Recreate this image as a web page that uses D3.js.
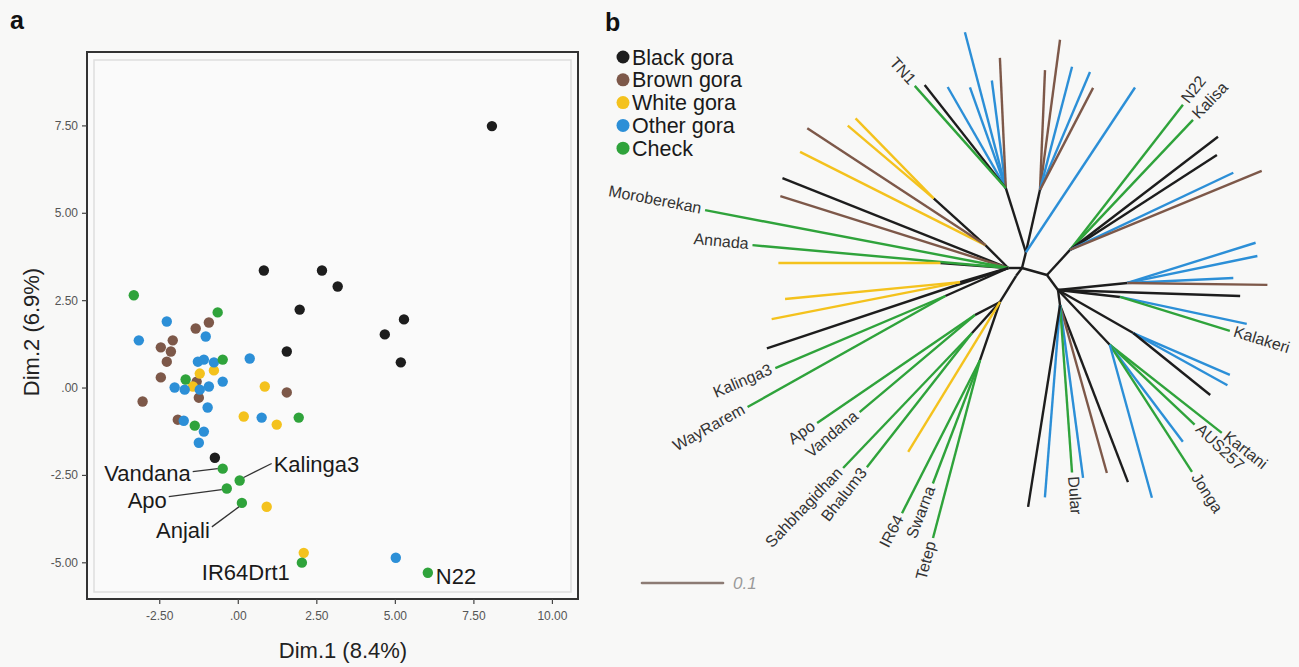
<!DOCTYPE html>
<html><head><meta charset="utf-8">
<script src="https://cdn.jsdelivr.net/npm/d3@7"></script>
<style>
body{margin:0;background:#f8f8f7;}
svg{display:block;font-family:"Liberation Sans",Arial,Helvetica,sans-serif;}
</style>
</head><body>
<svg id="c" width="1299" height="667"></svg>
<script>
// ---------- DATA ----------
const groups = ["Black gora","Brown gora","White gora","Other gora","Check"];
const groupColors = ["#1d1d1d","#7d5849","#f4c21d","#2c8fd7","#2fa33b"];

// Panel a: PCA scatter (Dim.1, Dim.2)
const xTicks = [-2.5, 0, 2.5, 5, 7.5, 10];
const xTickLabels = ["-2.50", ".00", "2.50", "5.00", "7.50", "10.00"];
const yTicks = [-5, -2.5, 0, 2.5, 5, 7.5];
const yTickLabels = ["-5.00", "-2.50", ".00", "2.50", "5.00", "7.50"];

const blackGora = [[8.09,7.48],[0.83,3.35],[2.68,3.35],[3.18,2.89],[1.97,2.23],[1.56,1.03],
  [4.68,1.52],[5.29,1.95],[5.19,0.72],[-0.73,-2.01]];
const brownGora = [[-1.34,1.69],[-0.92,1.86],[-2.07,1.35],[-2.45,1.15],[-2.13,1.03],[-2.26,0.74],
  [-2.45,0.29],[-1.31,0.17],[-1.24,-0.29],[1.56,-0.14],[-3.03,-0.40],[-1.91,-0.92]];
const whiteGora = [[-0.76,0.49],[-1.21,0.40],[-1.43,0.03],[0.86,0.03],[0.19,-0.83],[1.24,-1.06],
  [0.92,-3.41],[2.10,-4.73]];
const otherGora = [[-2.26,1.89],[-1.02,1.46],[-3.15,1.35],[-1.27,0.74],[-1.08,0.80],[-0.76,0.72],
  [-2.01,0.00],[-1.69,-0.06],[-1.21,-0.06],[-0.92,0.03],[-0.48,0.17],[0.38,0.83],[-0.96,-0.57],
  [0.76,-0.86],[-1.72,-0.95],[-1.08,-1.26],[-1.24,-1.58],[5.03,-4.87]];
const checks = [[-3.31,2.64],[-0.64,2.15],[-0.48,0.80],[-1.66,0.23],[1.94,-0.86],[-1.37,-1.09],
  [-0.48,-2.32],[0.06,-2.66],[-0.35,-2.89],[0.13,-3.30],[2.04,-5.01],[6.05,-5.30]];
const checkNames = ["","","","","","","Vandana","Kalinga3","Apo","Anjali","IR64Drt1","N22"];

// Panel b: unrooted tree. Internal nodes: [id, parent, angle(deg), branch length]
const treeInternal = [
  ["L","H",180,0.017],["U","H",-76,0.020],["R","H",15.6,0.032],["D","H",127,0.012],
  ["R2","R",53.7,0.023],["D1","D",121.6,0.038],["UA","U",-77.3,0.079],["UB","U",-107.4,0.083],
  ["UR","R",-47.4,0.042],["UL","L",-135,0.040],["YY","UL",-137.9,0.086],["Y1","L",184.2,0.084],
  ["YY2","L",163.7,0.062],["KW","L",156,0.085],["AV","D1",152.5,0.035],["SB","D1",132,0.052],
  ["IST","D1",109,0.076],["RA","R2",-5.8,0.086],["RK","R2",6.4,0.077],["RB","R2",29.8,0.107],
  ["RC","R2",46.6,0.093],["RD","R2",82.4,0.019]
];
// Leaves: [parent, group index, angle(deg), branch length, label]
const treeLeaves = [
  ["U",3,-56.5,0.244,""],
  ["UA",1,-87.6,0.148,""],["UA",1,-82.4,0.187,""],["UA",3,-75.4,0.157,""],["UA",3,-67,0.158,""],["UA",1,-62.5,0.142,""],
  ["UB",3,-119.9,0.144,""],["UB",3,-104.7,0.199,""],["UB",3,-109.6,0.132,""],["UB",3,-97.4,0.134,""],["UB",1,-92.6,0.161,""],
  ["UB",0,-128.2,0.162,""],["UB",4,-131.7,0.169,"TN1"],
  ["UR",4,-52.1,0.227,"N22"],["UR",4,-46.6,0.221,"Kalisa"],["UR",0,-37.4,0.230,""],["UR",0,-32.9,0.216,""],
  ["UR",3,-25.3,0.223,""],["UR",1,-22.4,0.256,""],
  ["UL",2,-153.3,0.256,""],["UL",1,-146.7,0.263,""],
  ["YY",2,-139.7,0.139,""],["YY",2,-134.3,0.138,""],
  ["L",0,-158.3,0.300,""],["L",1,-162.5,0.295,""],["L",4,-169.2,0.381,"Moroberekan"],["L",4,-174.9,0.317,"Annada"],
  ["L",0,161.6,0.314,""],
  ["Y1",2,180,0.200,""],
  ["YY2",2,174.5,0.217,""],["YY2",2,168.9,0.237,""],
  ["KW",4,157,0.228,"Kalinga3"],["KW",4,150.7,0.280,"WayRarem"],
  ["D1",2,121.5,0.217,""],
  ["AV",4,145.6,0.236,"Apo"],["AV",4,139.9,0.186,"Vandana"],
  ["SB",4,133.7,0.230,"Sahbhagidhan"],["SB",4,128.1,0.210,"Bhalum3"],
  ["IST",4,117,0.212,"IR64"],["IST",4,110.9,0.163,"Swarna"],["IST",4,104.8,0.227,"Tetep"],
  ["RA",3,-17.4,0.166,""],["RA",3,-11.7,0.164,""],["RA",3,-2.7,0.131,""],["RA",1,0.8,0.173,""],
  ["R2",0,1.9,0.225,""],
  ["RK",3,12,0.160,""],["RK",4,17.2,0.142,"Kalakeri"],
  ["RB",3,23.4,0.130,""],["RB",3,29,0.133,""],["RB",0,38.8,0.122,""],
  ["RC",4,38.2,0.176,"Kartani"],["RC",4,43.3,0.144,"AUS257"],["RC",3,53,0.150,""],["RC",4,57.1,0.187,"Jonga"],["RC",3,74.6,0.196,""],
  ["RD",0,69,0.234,""],["RD",1,74.4,0.215,""],["RD",3,82.4,0.215,""],["RD",4,85.9,0.207,"Dular"],["RD",3,94.5,0.238,""],["RD",0,99,0.252,""]
];
const scaleBarValue = 0.1;

// ---------- DRAW ----------
const svg = d3.select("#c");

// Panel labels
svg.append("text").attr("x",10).attr("y",29).attr("font-size",25).attr("font-weight","bold").attr("fill","#111").text("a");
svg.append("text").attr("x",605).attr("y",31).attr("font-size",25).attr("font-weight","bold").attr("fill","#111").text("b");

// ---- Panel a ----
const x = d3.scaleLinear().domain([-4.8, 10.83]).range([87, 578]);
const y = d3.scaleLinear().domain([-6.05, 9.6]).range([599, 52]);

svg.append("rect").attr("x",87).attr("y",52).attr("width",491).attr("height",547)
  .attr("fill","#fafafa").attr("stroke","#333").attr("stroke-width",2);
svg.append("rect").attr("x",94).attr("y",60).attr("width",477).attr("height",532)
  .attr("fill","none").attr("stroke","#dedede").attr("stroke-width",1.5);

const xAxis = svg.append("g").attr("transform","translate(0,599)")
  .call(d3.axisBottom(x).tickValues(xTicks).tickFormat((d,i)=>xTickLabels[i]).tickSize(5).tickPadding(7));
const yAxis = svg.append("g").attr("transform","translate(87,0)")
  .call(d3.axisLeft(y).tickValues(yTicks).tickFormat((d,i)=>yTickLabels[i]).tickSize(5).tickPadding(4));
[xAxis,yAxis].forEach(g=>{
  g.select(".domain").remove();
  g.selectAll(".tick line").attr("stroke","#444").attr("stroke-width",1.2);
  g.selectAll(".tick text").attr("font-size",12).attr("fill","#555").attr("font-family","'Liberation Sans',Arial,sans-serif");
});

svg.append("text").attr("x",343).attr("y",658).attr("text-anchor","middle")
  .attr("font-size",22).attr("fill","#222").text("Dim.1 (8.4%)");
svg.append("text").attr("transform","translate(39,332) rotate(-90)").attr("text-anchor","middle")
  .attr("font-size",22).attr("fill","#222").text("Dim.2 (6.9%)");

const scatterSets = [[brownGora,1],[whiteGora,2],[otherGora,3],[checks,4],[blackGora,0]];
scatterSets.forEach(([arr,gi])=>{
  svg.append("g").selectAll("circle").data(arr).join("circle")
    .attr("cx",d=>x(d[0])).attr("cy",d=>y(d[1])).attr("r",5.2)
    .attr("fill",groupColors[gi]);
});

// check annotations (layout offsets in px relative to the point)
const annot = {
  "Vandana": {dx:-32,dy:12,anchor:"end",line:[[-30,3],[-5,0]]},
  "Kalinga3":{dx:34,dy:-9,anchor:"start",line:[[4,-3],[32,-17]]},
  "Apo":     {dx:-60,dy:19,anchor:"end",line:[[-58,8],[-5,1]]},
  "Anjali":  {dx:-32,dy:35,anchor:"end",line:[[-30,24],[-3,4]]},
  "IR64Drt1":{dx:-12,dy:17,anchor:"end",line:null},
  "N22":     {dx:8,dy:11,anchor:"start",line:null}
};
checks.forEach((d,i)=>{
  const name = checkNames[i]; if(!name) return;
  const a = annot[name], px = x(d[0]), py = y(d[1]);
  if(a.line) svg.append("line").attr("x1",px+a.line[0][0]).attr("y1",py+a.line[0][1])
      .attr("x2",px+a.line[1][0]).attr("y2",py+a.line[1][1]).attr("stroke","#333").attr("stroke-width",1.3);
  svg.append("text").attr("x",px+a.dx).attr("y",py+a.dy).attr("text-anchor",a.anchor)
    .attr("font-size",22).attr("fill","#1a1a1a").text(name);
});

// ---- Panel b legend ----
const leg = svg.append("g");
groups.forEach((g,i)=>{
  const cy = 57 + i*22.8;
  leg.append("circle").attr("cx",623).attr("cy",cy).attr("r",6.5).attr("fill",groupColors[i]);
  leg.append("text").attr("x",632).attr("y",cy+7.5).attr("font-size",21.5).attr("fill","#1a1a1a").text(g);
});

// ---- Panel b tree ----
const br = d3.scaleLinear().domain([0, 0.1]).range([0, 81]);
const pos = {H:[1022,268]};
const rad = a => a*Math.PI/180;
const internalEdges = [];
treeInternal.forEach(([id,p,ang,len])=>{
  const [px,py] = pos[p];
  pos[id] = [px + br(len)*Math.cos(rad(ang)), py + br(len)*Math.sin(rad(ang))];
  internalEdges.push([pos[p],pos[id]]);
});
const tree = svg.append("g").attr("stroke-linecap","butt");
tree.selectAll("line.int").data(internalEdges).join("line").attr("class","int")
  .attr("x1",d=>d[0][0]).attr("y1",d=>d[0][1]).attr("x2",d=>d[1][0]).attr("y2",d=>d[1][1])
  .attr("stroke","#1d1d1d").attr("stroke-width",2.4);
const leafData = treeLeaves.map(([p,gi,ang,len,label])=>{
  const [px,py] = pos[p];
  return {x1:px,y1:py,x2:px+br(len)*Math.cos(rad(ang)),y2:py+br(len)*Math.sin(rad(ang)),gi,ang,label};
});
tree.selectAll("line.leaf").data(leafData).join("line").attr("class","leaf")
  .attr("x1",d=>d.x1).attr("y1",d=>d.y1).attr("x2",d=>d.x2).attr("y2",d=>d.y2)
  .attr("stroke",d=>groupColors[d.gi]).attr("stroke-width",2.4);

const labs = svg.append("g");
leafData.filter(d=>d.label).forEach(d=>{
  const a = ((d.ang%360)+360)%360;
  const right = Math.cos(rad(a)) >= -0.01;
  const off = 4;
  const tx = d.x2 + off*Math.cos(rad(a)), ty = d.y2 + off*Math.sin(rad(a));
  const rot = right ? a : a+180;
  labs.append("text").attr("transform",`translate(${tx},${ty}) rotate(${rot})`)
    .attr("text-anchor", right ? "start" : "end").attr("dominant-baseline","middle")
    .attr("font-size",16).attr("fill","#333").text(d.label);
});

// scale bar
svg.append("line").attr("x1",642).attr("x2",642+br(scaleBarValue)).attr("y1",583).attr("y2",583)
  .attr("stroke","#8c7b74").attr("stroke-width",2.6).attr("stroke-linecap","round");
svg.append("text").attr("x",733).attr("y",589).attr("font-size",17).attr("font-style","italic")
  .attr("fill","#9a9a9a").text(String(scaleBarValue));
</script>
</body></html>
